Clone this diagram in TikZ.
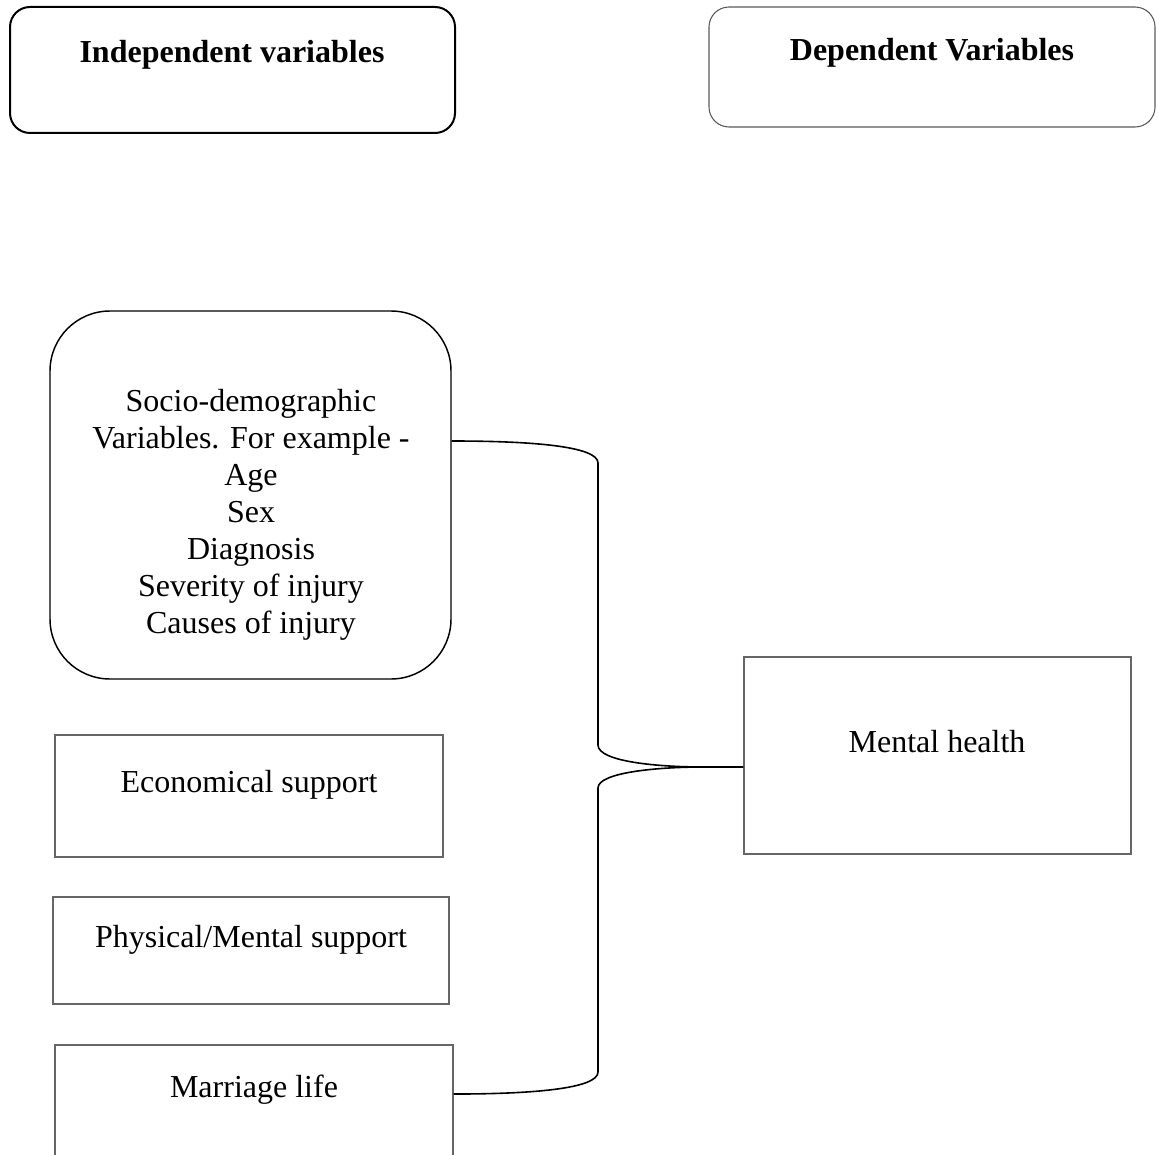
\documentclass[tikz,border=0pt]{standalone}
\usepackage{fontspec}
\setmainfont{Liberation Serif}
\begin{document}
\begin{tikzpicture}[x=0.75pt,y=-0.75pt,
  font=\fontsize{24}{27.75}\selectfont,
  hdrthick/.style={draw=black, line width=1.5pt, rounded corners=15pt, inner sep=0pt},
  hdrthin/.style={draw=black!65, line width=0.8pt, rounded corners=15pt, inner sep=0pt},
  roundbox/.style={draw=black, line width=1.1pt, rounded corners=45pt, inner sep=0pt},
  plainbox/.style={draw=black!60, line width=0.8pt, inner sep=0pt},
  txt/.style={inner sep=0pt, anchor=base},
  conn/.style={draw=black, line width=1.2pt}]
\useasboundingbox (0,0) rectangle (1159,1155);

% boxes
\node[hdrthick, minimum width=333.75pt, minimum height=94.5pt] (indep) at (232.5,70) {};
\node[hdrthin, minimum width=334.5pt, minimum height=90pt] (dep) at (932,67) {};
\node[roundbox, minimum width=300.75pt, minimum height=276pt] (socio) at (250.5,495) {};
\node[plainbox, minimum width=291pt, minimum height=91.5pt] (econ) at (249,796) {};
\node[plainbox, minimum width=297pt, minimum height=80.25pt] (phys) at (251,950.5) {};
\node[plainbox, minimum width=298.5pt, minimum height=84.75pt] (marr) at (254,1101.5) {};
\node[plainbox, minimum width=290.25pt, minimum height=147.75pt] (mh) at (937.5,755.5) {};

% texts
\node[txt, font=\fontsize{24}{27.75}\selectfont\bfseries] (indepT) at (232,63) {Independent variables};
\node[txt, font=\fontsize{24}{27.75}\selectfont\bfseries] (depT) at (932,61) {Dependent Variables};
\node[inner sep=0pt, align=center] (socioT) at (251,515) {Socio-demographic\\Variables. For example -\\Age\\Sex\\Diagnosis\\Severity of injury\\Causes of injury};
\node[txt] (econT) at (249,792) {Economical support};
\node[txt] (physT) at (251,947) {Physical/Mental support};
\node[txt] (marrT) at (254,1097) {Marriage life};
\node[txt] (mhT) at (937,752) {Mental health};

% brace connector
\coordinate (tip) at (703,767);
\draw[conn] ([yshift=40.5pt]socio.east) .. controls (530,441) and (598,446) .. (598,463)
  -- (598,745) .. controls (598,762) and (660,767) .. (tip) -- ([yshift=-8.6pt]mh.west);
\draw[conn] ([yshift=5.6pt]marr.east) .. controls (530,1094) and (598,1089) .. (598,1072)
  -- (598,788) .. controls (598,772) and (660,767) .. (tip);
\end{tikzpicture}
\end{document}
